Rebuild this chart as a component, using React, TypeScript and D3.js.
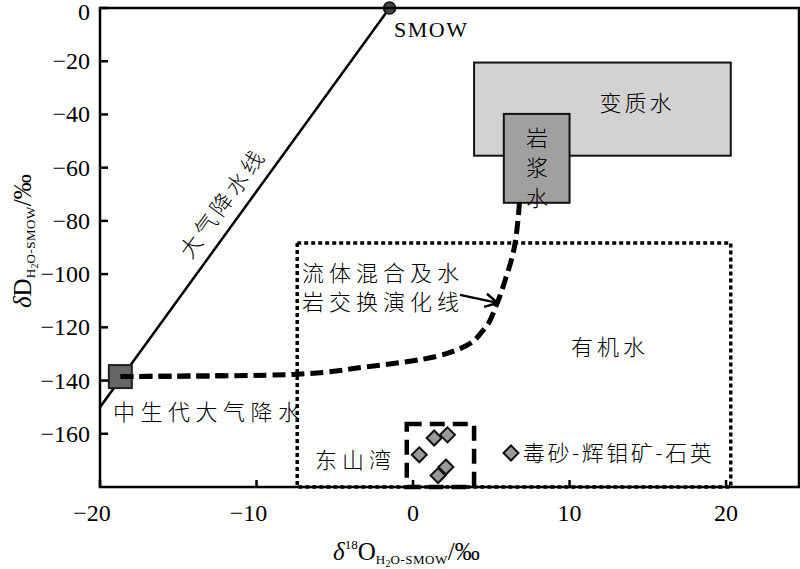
import React from "react";
import * as d3 from "d3";

// axis ticks
const xTicks = [-20, -10, 0, 10, 20];
const yTicks = [0, -20, -40, -60, -80, -100, -120, -140, -160];

// meteoric water line, ends at SMOW
const mwl: [number, number][] = [[-20, -150], [-1.5, 0]];
const smow: [number, number] = [-1.5, 0];

// Mesozoic meteoric water
const mesozoic: [number, number] = [-18.7, -138.5];

// fluid mixing / water-rock exchange evolution curve
const evolution: [number, number][] = [
  [-18.7, -138.5], [-12, -138.2], [-7.4, -137.6], [-3.2, -135], [0.6, -132],
  [3.0, -128], [4.5, -121], [5.3, -112], [5.9, -102], [6.4, -92], [6.7, -80], [6.8, -73]
];
const arrow: [number, number][] = [[3.0, -107.8], [5.4, -110.8]];

// fields: [x0, x1, y0, y1]
const metamorphic = [3.9, 20.3, -20.5, -55.5];
const magmatic = [5.8, 10, -39.8, -73.2];
const organic = [-7.4, 20.3, -88.3, -180];
const dongshanwan = [-0.4, 3.9, -156.3, -180];

// 毒砂-辉钼矿-石英 samples
const sampleX = [0.4, 1.35, 2.2, 2.1, 1.6];
const sampleY = [-167.9, -161.6, -160.4, -172.5, -175.7];

const serif = "'Liberation Serif', 'DejaVu Serif', serif";
const cjk = "'Noto Sans CJK SC', sans-serif";

export default function App() {
  const x = d3.scaleLinear().domain([-20, 24.66]).range([100, 799]);
  const y = d3.scaleLinear().domain([-180, 0]).range([487, 8]);
  const line = d3.line<[number, number]>().x(d => x(d[0])).y(d => y(d[1]));
  const curve = d3.line<[number, number]>().x(d => x(d[0])).y(d => y(d[1])).curve(d3.curveMonotoneY);

  const box = (b: number[]) => ({
    x: x(b[0]), y: y(b[2]), width: x(b[1]) - x(b[0]), height: y(b[3]) - y(b[2])
  });

  const mwlAngle = (Math.atan2(y(mwl[1][1]) - y(mwl[0][1]), x(mwl[1][0]) - x(mwl[0][0])) * 180) / Math.PI;

  // arrow head
  const ax0 = x(arrow[0][0]), ay0 = y(arrow[0][1]), ax1 = x(arrow[1][0]), ay1 = y(arrow[1][1]);
  const ang = Math.atan2(ay1 - ay0, ax1 - ax0);
  const hl = 14, ha = 0.5;
  const head = `M${ax1 - hl * Math.cos(ang - ha)},${ay1 - hl * Math.sin(ang - ha)}L${ax1},${ay1}L${ax1 - hl * Math.cos(ang + ha)},${ay1 - hl * Math.sin(ang + ha)}`;

  const diamond = (cx: number, cy: number, r: number) => `M${cx},${cy - r}L${cx + r},${cy}L${cx},${cy + r}L${cx - r},${cy}Z`;
  const fmt = (t: number) => (t < 0 ? "\u2212" + Math.abs(t) : String(t));

  return (
    <svg width={800} height={569} style={{ position: "absolute", left: 0, top: 0, background: "#fff" }}>
      <defs>
        <clipPath id="plot">
          <rect x={100} y={8} width={699} height={479} />
        </clipPath>
      </defs>

      {/* fields */}
      <rect {...box(organic)} fill="none" stroke="#000" strokeWidth={3.5} strokeDasharray="4,3" />
      <rect {...box(metamorphic)} fill="#d2d2d2" stroke="#111" strokeWidth={2} />
      <rect {...box(magmatic)} fill="#a0a0a0" stroke="#111" strokeWidth={2} />

      <g clipPath="url(#plot)">
        <path d={line(mwl) || ""} fill="none" stroke="#000" strokeWidth={2.5} />
        <path d={curve(evolution) || ""} fill="none" stroke="#000" strokeWidth={5} strokeDasharray="13,6" />
      </g>
      <rect
        x={x(mesozoic[0]) - 11.5} y={y(mesozoic[1]) - 11.5} width={23} height={23}
        fill="#666" stroke="#222" strokeWidth={2}
      />
      <path d={curve(evolution.slice(0, 2)) || ""} fill="none" stroke="#000" strokeWidth={5} strokeDasharray="13,6" />
      <circle cx={x(smow[0])} cy={y(smow[1])} r={6} fill="#444" stroke="#111" strokeWidth={1.5} />

      <rect {...box(dongshanwan)} fill="none" stroke="#000" strokeWidth={4.5} strokeDasharray="15,8" />

      <line x1={ax0} y1={ay0} x2={ax1} y2={ay1} stroke="#000" strokeWidth={2.5} />
      <path d={head} fill="none" stroke="#000" strokeWidth={2.5} />

      {sampleX.map((d, i) => (
        <path key={i} d={diamond(x(d), y(sampleY[i]), 7.5)} fill="#999" stroke="#111" strokeWidth={2} />
      ))}
      <path d={diamond(511, 453, 7.5)} fill="#999" stroke="#111" strokeWidth={2} />

      {/* frame */}
      <rect x={100} y={8} width={699} height={479} fill="none" stroke="#000" strokeWidth={2.5} />

      {/* ticks */}
      {xTicks.map(t => (
        <g key={"x" + t}>
          <line x1={x(t)} x2={x(t)} y1={487} y2={480} stroke="#000" strokeWidth={2.5} />
          <text x={x(t) - (t < 0 ? 8 : 0)} y={521} textAnchor="middle" fontFamily={serif} fontSize={24}>
            {fmt(t)}
          </text>
        </g>
      ))}
      {yTicks.map(t => (
        <g key={"y" + t}>
          <line x1={100} x2={108} y1={y(t)} y2={y(t)} stroke="#000" strokeWidth={2.5} />
          <text x={90} y={Math.max(y(t) + 8, 20)} textAnchor="end" fontFamily={serif} fontSize={24}>
            {fmt(t)}
          </text>
        </g>
      ))}

      {/* axis titles */}
      <text x={333} y={560} fontFamily={serif} fontSize={25}>
        <tspan fontStyle="italic">δ</tspan>
        <tspan fontSize={13} dy={-11}>18</tspan>
        <tspan dy={11}>O</tspan>
        <tspan fontSize={13} dy={4} letterSpacing={0.5}>H</tspan>
        <tspan fontSize={10} dy={3}>2</tspan>
        <tspan fontSize={13} dy={-3} letterSpacing={0.5}>O-SMOW</tspan>
        <tspan dy={-4}>/‰</tspan>
      </text>
      <text transform="translate(31,308) rotate(-90)" fontFamily={serif} fontSize={25}>
        <tspan fontStyle="italic">δ</tspan>
        <tspan>D</tspan>
        <tspan fontSize={13} dy={4} letterSpacing={0.5}>H</tspan>
        <tspan fontSize={10} dy={3}>2</tspan>
        <tspan fontSize={13} dy={-3} letterSpacing={0.5}>O-SMOW</tspan>
        <tspan dy={-4}>/‰</tspan>
      </text>

      {/* labels */}
      <text x={394} y={37} fontFamily={serif} fontSize={22} letterSpacing={1.5}>SMOW</text>
      <text
        transform={`translate(${x(-12.7) + 15},${y(-90) - 40}) rotate(${mwlAngle})`}
        textAnchor="middle" fontFamily={cjk} fontWeight={300} fontSize={22} letterSpacing={4}
      >大气降水线</text>
      <text x={637} y={111} textAnchor="middle" fontFamily={cjk} fontWeight={300} fontSize={22} letterSpacing={3}>变质水</text>
      {["岩", "浆", "水"].map((c, i) => (
        <text key={c} x={537} y={146 + i * 30} textAnchor="middle" fontFamily={cjk} fontWeight={300} fontSize={22}>{c}</text>
      ))}
      <text x={302} y={281} fontFamily={cjk} fontWeight={300} fontSize={22} letterSpacing={5}>流体混合及水</text>
      <text x={302} y={310} fontFamily={cjk} fontWeight={300} fontSize={22} letterSpacing={5}>岩交换演化线</text>
      <text x={610} y={355} textAnchor="middle" fontFamily={cjk} fontWeight={300} fontSize={22} letterSpacing={4}>有机水</text>
      <text x={113} y={420} fontFamily={cjk} fontWeight={300} fontSize={22} letterSpacing={5.5}>中生代大气降水</text>
      <text x={315} y={468} fontFamily={cjk} fontWeight={300} fontSize={22} letterSpacing={5}>东山湾</text>
      <text x={523} y={461} fontFamily={cjk} fontWeight={300} fontSize={22} letterSpacing={2.5}>毒砂-辉钼矿-石英</text>
    </svg>
  );
}
